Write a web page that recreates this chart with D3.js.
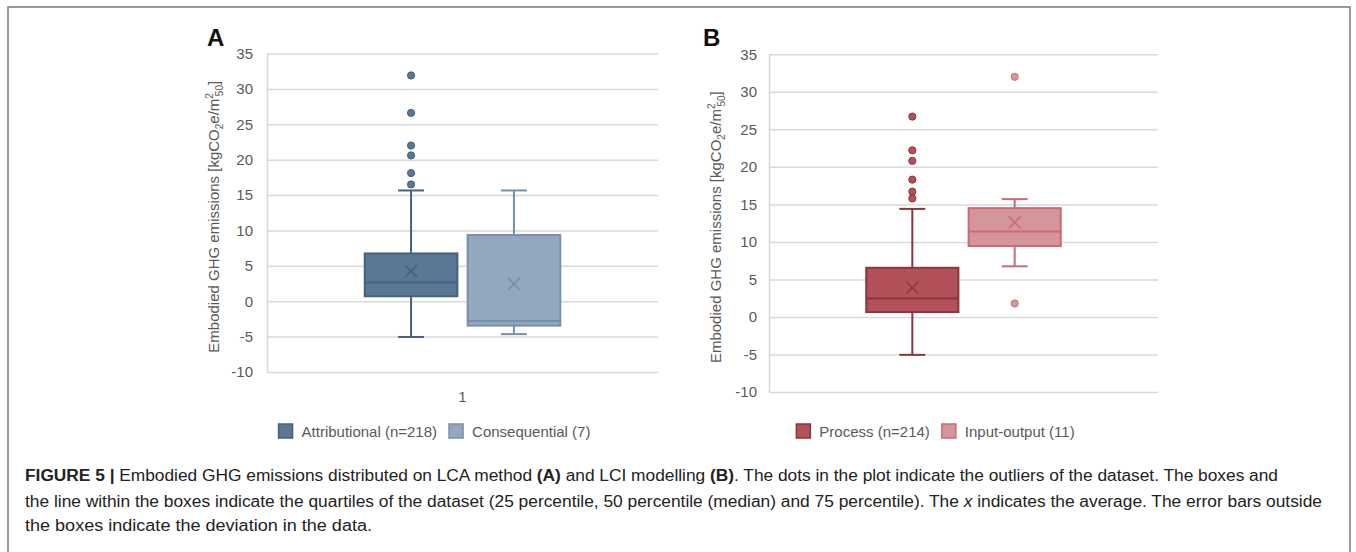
<!DOCTYPE html>
<html>
<head>
<meta charset="utf-8">
<style>
  body { margin: 0; background: #fff; }
  svg text { font-family: "Liberation Sans", Arial, sans-serif; }
</style>
</head>
<body>
<script src="https://d3js.org/d3.v7.min.js"></script>
<svg id="chart" width="1356" height="552"></svg>
<script>
// ---- data ----
const yTickValues = [-10, -5, 0, 5, 10, 15, 20, 25, 30, 35];
const categoryA = ["1"];

const seriesA = ["Attributional (n=218)", "Consequential (7)"];
const minA = [-5.05, -4.65];
const q1A = [0.7, -3.45];
const medianA = [2.65, -2.8];
const q3A = [6.75, 9.35];
const maxA = [15.65, 15.65];
const meanA = [4.25, 2.45];
const outliersA = [[31.9, 26.6, 22.0, 20.6, 18.1, 16.5], []];

const seriesB = ["Process (n=214)", "Input-output (11)"];
const minB = [-5.05, 6.75];
const q1B = [0.65, 9.45];
const medianB = [2.45, 11.4];
const q3B = [6.55, 14.5];
const maxB = [14.4, 15.7];
const meanB = [3.9, 12.6];
const outliersB = [[26.7, 22.2, 20.8, 18.3, 16.7, 15.8], [32.0, 1.8]];

const fillA = ["#597896", "#93a8be"];
const strokeA = ["#46617e", "#7490ad"];
const fillB = ["#b3515a", "#d4959b"];
const strokeB = ["#8c353d", "#cc6a73"];

const captionLines = [
  ["FIGURE 5 | ", "Embodied GHG emissions distributed on LCA method ", "(A)", " and LCI modelling ", "(B)", ". The dots in the plot indicate the outliers of the dataset. The boxes and"],
  ["", "the line within the boxes indicate the quartiles of the dataset (25 percentile, 50 percentile (median) and 75 percentile). The ", "x", " indicates the average. The error bars outside"],
  ["", "the boxes indicate the deviation in the data."]
];

const svg = d3.select("#chart");
const grey = "#595959";
const fs = "15px";

// outer frame
svg.append("rect")
  .attr("x", 8).attr("y", 7).attr("width", 1342).attr("height", 600)
  .attr("fill", "none").attr("stroke", "#7a7a7a").attr("stroke-width", 1.5);

function boxPanel(cfg) {
  const g = svg.append("g");
  const yScale = d3.scaleLinear().domain([-10, 35]).range([cfg.bottom, cfg.top]);
  const xScale = d3.scaleBand().domain(categoryA).range([cfg.left, cfg.right]).paddingOuter(0.5);
  const inner = d3.scaleBand().domain(cfg.series)
    .range([xScale("1"), xScale("1") + xScale.bandwidth()]).paddingInner(0.1);

  // gridlines + axis
  const yAxis = d3.axisLeft(yScale).tickValues(yTickValues)
    .tickFormat(d => String(d))
    .tickSize(-(cfg.right - cfg.left)).tickSizeOuter(0).tickPadding(cfg.pad);
  const ax = g.append("g").attr("transform", `translate(${cfg.left},0)`).call(yAxis);
  ax.select(".domain").attr("stroke", "#d9d9d9").attr("stroke-width", 1.5);
  ax.selectAll(".tick line").attr("stroke", "#d9d9d9").attr("stroke-width", 1.5);
  ax.selectAll(".tick text").attr("fill", grey).style("font-size", fs);

  if (cfg.showX) {
    const xAxis = d3.axisBottom(xScale).tickSize(0).tickPadding(19);
    const xa = g.append("g").attr("transform", `translate(0,${cfg.bottom})`).call(xAxis);
    xa.select(".domain").remove();
    xa.selectAll("text").attr("fill", grey).style("font-size", fs);
  }

  const bw = inner.bandwidth();
  cfg.series.forEach((s, i) => {
    const cx = inner(s) + bw / 2;
    const bg = g.append("g");
    const st = cfg.stroke[i];
    // whiskers
    bg.append("line").attr("x1", cx).attr("x2", cx)
      .attr("y1", yScale(cfg.max[i])).attr("y2", yScale(cfg.q3[i]))
      .attr("stroke", st).attr("stroke-width", 2);
    bg.append("line").attr("x1", cx).attr("x2", cx)
      .attr("y1", yScale(cfg.q1[i])).attr("y2", yScale(cfg.min[i]))
      .attr("stroke", st).attr("stroke-width", 2);
    [cfg.max[i], cfg.min[i]].forEach(v => {
      bg.append("line").attr("x1", cx - 13).attr("x2", cx + 13)
        .attr("y1", yScale(v)).attr("y2", yScale(v))
        .attr("stroke", st).attr("stroke-width", 2);
    });
    // box
    bg.append("rect")
      .attr("x", inner(s)).attr("width", bw)
      .attr("y", yScale(cfg.q3[i])).attr("height", yScale(cfg.q1[i]) - yScale(cfg.q3[i]))
      .attr("fill", cfg.fill[i]).attr("stroke", st).attr("stroke-width", 2);
    // median
    bg.append("line").attr("x1", inner(s)).attr("x2", inner(s) + bw)
      .attr("y1", yScale(cfg.median[i])).attr("y2", yScale(cfg.median[i]))
      .attr("stroke", st).attr("stroke-width", 2);
    // mean X
    const my = yScale(cfg.mean[i]);
    bg.append("path")
      .attr("d", `M${cx - 6},${my - 6}L${cx + 6},${my + 6}M${cx - 6},${my + 6}L${cx + 6},${my - 6}`)
      .attr("stroke", st).attr("stroke-width", 1.5).attr("fill", "none");
    // outliers
    bg.selectAll("circle").data(cfg.outliers[i]).enter().append("circle")
      .attr("cx", cx).attr("cy", d => yScale(d)).attr("r", 3.6)
      .attr("fill", cfg.fill[i]).attr("stroke", st).attr("stroke-width", 1);
  });

  // axis title
  const midY = (cfg.top + cfg.bottom) / 2 + 4;
  const t = g.append("text")
    .attr("transform", `translate(${cfg.left - 48},${midY}) rotate(-90)`)
    .attr("text-anchor", "middle").attr("fill", grey).style("font-size", fs);
  t.append("tspan").text("Embodied GHG emissions [kgCO");
  t.append("tspan").text("2").attr("dy", 4).style("font-size", "10px");
  t.append("tspan").text("e/m").attr("dy", -4);
  t.append("tspan").text("2").attr("dy", -6).style("font-size", "10px");
  t.append("tspan").text("50").attr("dy", 10).attr("dx", -3).style("font-size", "10px");
  t.append("tspan").text("]").attr("dy", -4);

  // panel letter
  svg.append("text").attr("x", cfg.letterX).attr("y", 46)
    .style("font-size", "24px").style("font-weight", "bold").attr("fill", "#111")
    .text(cfg.letter);

  // legend
  const lg = g.append("g");
  let x = 0;
  cfg.series.forEach((s, i) => {
    lg.append("rect").attr("x", x).attr("y", 424).attr("width", 14).attr("height", 14)
      .attr("fill", cfg.fill[i]).attr("stroke", cfg.stroke[i]).attr("stroke-width", 1.5);
    const tx = lg.append("text").attr("x", x + 23).attr("y", 437)
      .attr("fill", grey).style("font-size", fs).text(s);
    x += 23 + tx.node().getComputedTextLength() + 12;
  });
  const legW = x - 12;
  const center = (cfg.left + cfg.right) / 2 - 28;
  lg.attr("transform", `translate(${center - legW / 2},0)`);
}

boxPanel({
  letter: "A", letterX: 207,
  left: 267, right: 658, top: 53.5, bottom: 372, pad: 14, showX: true,
  series: seriesA, min: minA, q1: q1A, median: medianA, q3: q3A, max: maxA,
  mean: meanA, outliers: outliersA, fill: fillA, stroke: strokeA
});
boxPanel({
  letter: "B", letterX: 703,
  left: 769, right: 1158, top: 54.3, bottom: 392, pad: 12, showX: false,
  series: seriesB, min: minB, q1: q1B, median: medianB, q3: q3B, max: maxB,
  mean: meanB, outliers: outliersB, fill: fillB, stroke: strokeB
});

// caption
const capFont = '"Liberation Sans Narrow", "Liberation Sans", Arial, sans-serif';
const capY = [481, 507, 531];
const capW = [1253, 1297, 347];
captionLines.forEach((parts, li) => {
  const t = svg.append("text").attr("x", 25).attr("y", capY[li])
    .style("font-family", capFont).style("font-size", "16px").attr("fill", "#222")
    .attr("textLength", capW[li]).attr("lengthAdjust", "spacingAndGlyphs");
  parts.forEach((p, pi) => {
    if (!p) return;
    const ts = t.append("tspan").text(p);
    if (li === 0 && (pi === 0 || pi === 2 || pi === 4)) ts.style("font-weight", "bold");
    if (li === 1 && pi === 2) ts.style("font-style", "italic");
  });
});
</script>
</body>
</html>
